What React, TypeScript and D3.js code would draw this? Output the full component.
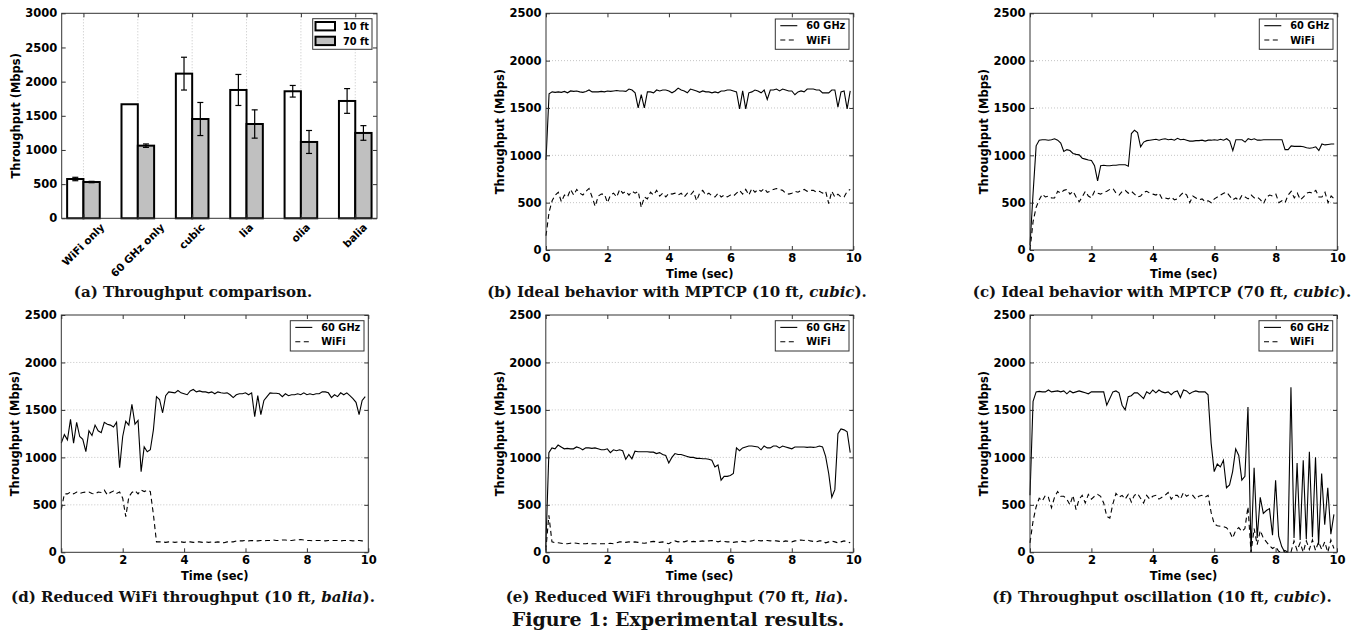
import React, { useEffect, useRef } from "react";
import * as d3 from "d3";

const W = 1357;
const H = 632;
const SANS = "'DejaVu Sans', Verdana, sans-serif";
const SERIF = "'DejaVu Serif', serif";

// ---------- Panel (a): bar chart ----------
const barCategories = ["WiFi only", "60 GHz only", "cubic", "lia", "olia", "balia"];
const tput10ft = [575, 1669, 2117, 1878, 1859, 1717];
const err10ft = [25, 0, 240, 227, 85, 181];
const tput70ft = [531, 1063, 1453, 1380, 1117, 1249];
const err70ft = [10, 25, 242, 207, 168, 107];
const barYTicks = [0, 500, 1000, 1500, 2000, 2500, 3000];
const barLegend = ["10 ft", "70 ft"];

// ---------- Time-series panels ----------
const timeTicks = [0, 2, 4, 6, 8, 10];
const lineYTicks = [0, 500, 1000, 1500, 2000, 2500];
const lineLegend = ["60 GHz", "WiFi"];

const times = [
  0, 0.1, 0.2, 0.3, 0.4, 0.5, 0.6, 0.7, 0.8, 0.9,
  1, 1.1, 1.2, 1.3, 1.4, 1.5, 1.6, 1.7, 1.8, 1.9,
  2, 2.1, 2.2, 2.3, 2.4, 2.5, 2.6, 2.7, 2.8, 2.9,
  3, 3.1, 3.2, 3.3, 3.4, 3.5, 3.6, 3.7, 3.8, 3.9,
  4, 4.1, 4.2, 4.3, 4.4, 4.5, 4.6, 4.7, 4.8, 4.9,
  5, 5.1, 5.2, 5.3, 5.4, 5.5, 5.6, 5.7, 5.8, 5.9,
  6, 6.1, 6.2, 6.3, 6.4, 6.5, 6.6, 6.7, 6.8, 6.9,
  7, 7.1, 7.2, 7.3, 7.4, 7.5, 7.6, 7.7, 7.8, 7.9,
  8, 8.1, 8.2, 8.3, 8.4, 8.5, 8.6, 8.7, 8.8, 8.9,
  9, 9.1, 9.2, 9.3, 9.4, 9.5, 9.6, 9.7, 9.8, 9.9,
];

// (b) Ideal behavior, 10 ft, cubic
const b60GHz = [
  950, 1650, 1670, 1665, 1670, 1665, 1675, 1660, 1680, 1675,
  1680, 1670, 1665, 1675, 1690, 1670, 1670, 1670, 1675, 1670,
  1680, 1675, 1680, 1685, 1680, 1680, 1675, 1700, 1690, 1660,
  1500, 1640, 1500, 1670, 1670, 1660, 1690, 1680, 1690, 1690,
  1680, 1660, 1680, 1710, 1690, 1680, 1660, 1700, 1690, 1680,
  1665, 1680, 1670, 1670, 1660, 1670, 1660, 1680, 1680, 1690,
  1690, 1680, 1670, 1490, 1680, 1490, 1660, 1670, 1690, 1680,
  1660, 1690, 1590, 1690, 1690, 1700, 1680, 1700, 1690, 1680,
  1680, 1640, 1670, 1680, 1670, 1700, 1700, 1700, 1690, 1690,
  1660, 1660, 1660, 1690, 1690, 1510, 1670, 1680, 1490, 1680,
];
const bWiFi = [
  150, 400, 520, 580, 610, 510, 580, 560, 640, 580,
  640, 600, 580, 620, 650, 560, 460, 570, 590, 590,
  500, 580, 600, 560, 640, 600, 620, 580, 620, 600,
  620, 450, 560, 540, 610, 580, 630, 570, 600, 560,
  600, 590, 600, 580, 600, 560, 600, 580, 620, 520,
  600, 630, 580, 600, 570, 560, 600, 560, 580, 560,
  580, 570, 600, 630, 590, 640, 580, 650, 610, 640,
  620, 650, 610, 620, 640, 650, 640, 630, 600, 590,
  600, 620, 610, 630, 640, 620, 630, 630, 610, 620,
  600, 620, 490, 620, 560, 590, 560, 560, 620, 640,
];

// (c) Ideal behavior, 70 ft, cubic
const c60GHz = [
  50, 600, 1100, 1160, 1165, 1165, 1160, 1165, 1175, 1160,
  1130, 1040, 1060, 1050, 1020, 1010, 1005, 970, 960, 950,
  945, 890, 730, 890, 895, 890, 890, 895, 895, 900,
  900, 900, 885, 1230, 1265, 1240, 1090, 1140, 1155, 1160,
  1165, 1170, 1160, 1170, 1175, 1165, 1170, 1160, 1180, 1165,
  1170, 1160, 1150, 1150, 1155, 1155, 1160, 1150, 1160, 1160,
  1165, 1160, 1170, 1160, 1175, 1150, 1050, 1165, 1165, 1165,
  1140, 1175, 1165, 1175, 1160, 1160, 1165, 1165, 1165, 1165,
  1165, 1165, 1165, 1060, 1060, 1100, 1095, 1095, 1095, 1090,
  1080, 1075, 1080, 1090, 1050, 1120, 1110, 1115, 1120, 1120,
];
const cWiFi = [
  0, 300, 450, 530, 590, 560, 570, 550, 550, 620,
  600, 630, 640, 590, 620, 560, 510, 560, 620, 570,
  550, 620, 600, 590, 610, 620, 640, 650, 600, 580,
  620, 630, 600, 620, 590, 560, 570, 610, 620, 600,
  590, 580, 600, 540, 550, 540, 560, 530, 540, 580,
  610, 580, 500, 570, 550, 530, 540, 510, 520, 500,
  540, 560, 580, 600, 610, 570, 530, 550, 520, 580,
  560, 540, 580, 550, 560, 530, 490, 560, 580, 570,
  590, 500, 520, 500, 580, 620, 550, 600, 530, 560,
  600, 610, 600, 630, 560, 560, 610, 500, 570, 540,
];

// (d) Reduced WiFi throughput, 10 ft, balia
const d60GHz = [
  1150, 1240, 1185, 1400, 1150, 1370, 1220, 1190, 1060, 1280,
  1230, 1340, 1280, 1260, 1370, 1350, 1340, 1320, 1370, 890,
  1220, 1380, 1340, 1560, 1350, 1390, 850, 1110, 1060, 1080,
  1290, 1640, 1610, 1470, 1650, 1690, 1685, 1680, 1705, 1680,
  1670, 1660, 1700, 1715, 1690, 1700, 1690, 1690, 1680, 1690,
  1670, 1690, 1680, 1675, 1680, 1660, 1630, 1660, 1670, 1670,
  1680, 1660, 1680, 1430, 1650, 1450, 1600, 1640, 1680, 1675,
  1675, 1670, 1640, 1670, 1650, 1660, 1660, 1670, 1660, 1680,
  1660, 1670, 1660, 1670, 1670, 1690, 1690, 1680, 1630, 1660,
  1640, 1680, 1660, 1680, 1650, 1620, 1580, 1450, 1600, 1640,
];
const dWiFi = [
  450, 615, 615, 635, 615, 635, 620, 630, 635, 635,
  620, 615, 635, 630, 655, 605, 630, 645, 620, 635,
  570, 375, 585, 630, 650, 615, 655, 640, 655, 640,
  400, 110, 110, 110, 105, 110, 110, 105, 110, 110,
  105, 110, 110, 105, 110, 110, 105, 110, 105, 110,
  105, 110, 105, 100, 110, 110, 110, 120, 120, 120,
  125, 120, 125, 120, 120, 125, 120, 125, 125, 130,
  125, 125, 130, 130, 125, 125, 130, 130, 135, 130,
  125, 125, 120, 125, 125, 125, 120, 125, 125, 125,
  125, 120, 125, 125, 125, 120, 125, 125, 120, 115,
];

// (e) Reduced WiFi throughput, 70 ft, lia
const e60GHz = [
  50, 1050, 1100, 1090, 1130, 1110, 1090, 1095, 1090, 1090,
  1110, 1100, 1080, 1100, 1100, 1095, 1100, 1090, 1080, 1080,
  1090, 1050, 1080, 1070, 1080, 1070, 980, 1030, 985, 1065,
  1060, 1060, 1060, 1060, 1055, 1055, 1040, 1050, 1030, 1020,
  940, 1000, 1040, 1030, 1030, 1020, 1010, 1000, 1000, 990,
  990, 985, 985, 980, 970, 900, 920, 760, 800, 800,
  810, 830, 1100, 1070, 1100, 1110, 1120, 1120, 1115, 1110,
  1080, 1120, 1100, 1100, 1120, 1120, 1100, 1120, 1110, 1100,
  1090, 1110, 1110, 1110, 1110, 1105, 1110, 1105, 1110, 1120,
  1110, 1010, 830, 580, 660, 1250, 1300, 1290, 1270, 1050,
];
const eWiFi = [
  20, 390, 110, 100, 100, 95, 90, 90, 95, 100,
  95, 90, 90, 90, 95, 90, 90, 90, 90, 90,
  90, 95, 90, 100, 110, 110, 105, 110, 105, 110,
  105, 100, 95, 100, 110, 115, 110, 105, 110, 100,
  90, 110, 120, 110, 115, 110, 120, 110, 115, 110,
  115, 120, 115, 120, 125, 120, 110, 120, 115, 110,
  110, 105, 110, 110, 115, 110, 115, 120, 130, 125,
  120, 125, 125, 120, 125, 120, 115, 110, 120, 115,
  110, 120, 125, 130, 125, 130, 120, 115, 110, 120,
  120, 100, 110, 120, 110, 100, 110, 120, 110, 100,
];

// (f) Throughput oscillation, 10 ft, cubic
const f60GHz = [
  600, 1590, 1690, 1695, 1690, 1690, 1710, 1690, 1695, 1700,
  1690, 1700, 1670, 1700, 1680, 1690, 1700, 1690, 1680, 1670,
  1690, 1690, 1690, 1690, 1690, 1550, 1620, 1690, 1700, 1680,
  1550, 1500, 1640, 1650, 1680, 1680, 1650, 1620, 1690, 1670,
  1710, 1680, 1710, 1690, 1680, 1690, 1660, 1690, 1700, 1630,
  1710, 1700, 1670, 1690, 1700, 1690, 1690, 1690, 1660, 1150,
  850, 930, 900, 970, 680, 710, 850, 1090, 1020, 760,
  800, 1530, 0, 890, 150, 580, 410, 440, 460, 180,
  760, 170, 60, 0, 0, 1740, 150, 940, 130, 970,
  140, 1060, 160, 1000, 80, 830, 290, 680, 190, 400,
];
const fWiFi = [
  100, 330, 480, 570, 540, 600, 580, 470, 580, 640,
  590, 590, 560, 500, 600, 450, 560, 600, 520, 610,
  560, 590, 610, 590, 520, 380, 360, 510, 620, 580,
  600, 560, 610, 530, 600, 620, 570, 520, 600, 560,
  590, 600, 560, 580, 600, 630, 560, 600, 600, 560,
  630, 590, 610, 600, 560, 590, 600, 580, 600, 420,
  300, 280, 275, 270, 260, 220, 150, 230, 260, 220,
  250, 480, 0, 250, 80, 230, 150, 110, 70, 40,
  60, 10, 0, 20, 0, 0, 120, 20, 100, 0,
  120, 30, 130, 20, 110, 30, 110, 0, 130, 40,
];

type Box = { left: number; right: number; top: number; bottom: number };
type Part = { t: string; i?: boolean };

const captions: Part[][] = [
  [{ t: "(a) Throughput comparison." }],
  [{ t: "(b) Ideal behavior with MPTCP (10 ft, " }, { t: "cubic", i: true }, { t: ")." }],
  [{ t: "(c) Ideal behavior with MPTCP (70 ft, " }, { t: "cubic", i: true }, { t: ")." }],
  [{ t: "(d) Reduced WiFi throughput (10 ft, " }, { t: "balia", i: true }, { t: ")." }],
  [{ t: "(e) Reduced WiFi throughput (70 ft, " }, { t: "lia", i: true }, { t: ")." }],
  [{ t: "(f) Throughput oscillation (10 ft, " }, { t: "cubic", i: true }, { t: ")." }],
];
const figureTitle = "Figure 1: Experimental results.";

const TICK_FS = 11.5;
const LEG_FS = 9.8;
const SPINE = "#333";
const GRID = "#b5b5b5";
const DASH = "5,3.5";

function styleAxis(g: any) {
  g.select(".domain").remove();
  g.selectAll("line").attr("stroke", SPINE);
  g.selectAll("text")
    .attr("fill", "#000")
    .attr("font-family", SANS)
    .attr("font-size", TICK_FS)
    .attr("font-weight", "bold");
}

function drawYAxes(svg: any, box: Box, y: any, ticks: number[]) {
  const left = svg
    .append("g")
    .attr("transform", `translate(${box.left},0)`)
    .call(d3.axisLeft(y).tickValues(ticks).tickSizeInner(-4).tickSizeOuter(0).tickPadding(4.5).tickFormat(d3.format("d")));
  styleAxis(left);
  const right = svg
    .append("g")
    .attr("transform", `translate(${box.right},0)`)
    .call(d3.axisRight(y).tickValues(ticks).tickSizeInner(-4).tickSizeOuter(0).tickFormat(() => ""));
  styleAxis(right);
}

function drawYLabel(svg: any, box: Box) {
  svg
    .append("text")
    .attr("transform", `translate(${box.left - 46},${(box.top + box.bottom) / 2}) rotate(-90)`)
    .attr("text-anchor", "middle")
    .attr("dominant-baseline", "central")
    .attr("font-family", SANS)
    .attr("font-size", TICK_FS)
    .attr("font-weight", "bold")
    .text("Throughput (Mbps)");
}

function drawFrame(svg: any, box: Box) {
  svg
    .append("rect")
    .attr("x", box.left)
    .attr("y", box.top)
    .attr("width", box.right - box.left)
    .attr("height", box.bottom - box.top)
    .attr("fill", "none")
    .attr("stroke", SPINE)
    .attr("stroke-width", 1);
}

function drawCaption(svg: any, parts: Part[], cx: number, baseline: number, size: number) {
  const t = svg
    .append("text")
    .attr("x", cx)
    .attr("y", baseline)
    .attr("text-anchor", "middle")
    .attr("font-family", SERIF)
    .attr("font-size", size)
    .attr("font-weight", "bold")
    .attr("fill", "#111");
  parts.forEach((p) => {
    t.append("tspan").attr("font-style", p.i ? "italic" : "normal").text(p.t);
  });
}

function drawBarPanel(svg: any, box: Box) {
  const x = d3.scaleLinear().domain([-0.4, barCategories.length - 0.6]).range([box.left, box.right]);
  const y = d3.scaleLinear().domain([0, 3000]).range([box.bottom, box.top]);
  const bw = 0.3;

  svg
    .append("g")
    .selectAll("line")
    .data(barCategories)
    .join("line")
    .attr("x1", (_: string, i: number) => x(i))
    .attr("x2", (_: string, i: number) => x(i))
    .attr("y1", box.top)
    .attr("y2", box.bottom)
    .attr("stroke", GRID)
    .attr("stroke-width", 0.8)
    .attr("stroke-dasharray", "1,2");

  const series = [
    { vals: tput10ft, errs: err10ft, fill: "#ffffff", off: -bw },
    { vals: tput70ft, errs: err70ft, fill: "#c0c0c0", off: 0 },
  ];
  series.forEach((s) => {
    const g = svg.append("g");
    g.selectAll("rect")
      .data(s.vals)
      .join("rect")
      .attr("x", (_: number, i: number) => x(i + s.off))
      .attr("width", x(bw) - x(0))
      .attr("y", (d: number) => y(d))
      .attr("height", (d: number) => y(0) - y(d))
      .attr("fill", s.fill)
      .attr("stroke", "#000")
      .attr("stroke-width", 2);
    const eg = svg.append("g").attr("stroke", "#000").attr("stroke-width", 1.2);
    s.vals.forEach((v, i) => {
      const e = s.errs[i];
      if (!e) return;
      const cx = x(i + s.off + bw / 2);
      eg.append("line").attr("x1", cx).attr("x2", cx).attr("y1", y(v - e)).attr("y2", y(v + e));
      eg.append("line").attr("x1", cx - 3).attr("x2", cx + 3).attr("y1", y(v - e)).attr("y2", y(v - e));
      eg.append("line").attr("x1", cx - 3).attr("x2", cx + 3).attr("y1", y(v + e)).attr("y2", y(v + e));
    });
  });

  drawFrame(svg, box);
  drawYAxes(svg, box, y, barYTicks);

  const idx = barCategories.map((_, i) => i);
  const xb = svg
    .append("g")
    .attr("transform", `translate(0,${box.bottom})`)
    .call(d3.axisBottom(x).tickValues(idx).tickSizeInner(-4).tickSizeOuter(0).tickFormat((i: any) => barCategories[i]));
  styleAxis(xb);
  const fs = 10.5;
  xb.selectAll("text").each(function (this: SVGTextElement) {
    const el = d3.select(this).attr("font-size", fs);
    const L = this.getComputedTextLength();
    el.attr("text-anchor", "end")
      .attr("y", null)
      .attr("dy", null)
      .attr("transform", `translate(${0.354 * L + 0.175 * fs},${4 + 0.53 * fs}) rotate(-45)`);
  });
  const xt = svg
    .append("g")
    .attr("transform", `translate(0,${box.top})`)
    .call(d3.axisTop(x).tickValues(idx).tickSizeInner(-4).tickSizeOuter(0).tickFormat(() => ""));
  styleAxis(xt);

  drawYLabel(svg, box);

  const lx = box.right - 64.3;
  const ly = box.top + 5.4;
  const lg = svg.append("g");
  lg.append("rect").attr("x", lx).attr("y", ly).attr("width", 59.3).attr("height", 30.6).attr("fill", "#fff").attr("stroke", SPINE).attr("stroke-width", 1);
  barLegend.forEach((name, i) => {
    const ry = ly + 3.3 + i * 14.7;
    lg.append("rect").attr("x", lx + 2.8).attr("y", ry).attr("width", 19.5).attr("height", 8.4).attr("fill", series[i].fill).attr("stroke", "#000").attr("stroke-width", 2);
    lg.append("text").attr("x", lx + 30.3).attr("y", ry + 7.8).attr("font-family", SANS).attr("font-size", LEG_FS).attr("font-weight", "bold").text(name);
  });
}

function drawLinePanel(svg: any, box: Box, s60: number[], sWiFi: number[]) {
  const x = d3.scaleLinear().domain([0, 10]).range([box.left, box.right]);
  const y = d3.scaleLinear().domain([0, 2500]).range([box.bottom, box.top]);

  svg
    .append("g")
    .selectAll("line")
    .data(lineYTicks.slice(1, -1))
    .join("line")
    .attr("x1", box.left)
    .attr("x2", box.right)
    .attr("y1", (d: number) => y(d))
    .attr("y2", (d: number) => y(d))
    .attr("stroke", GRID)
    .attr("stroke-width", 0.8)
    .attr("stroke-dasharray", "1,2");

  const line = d3
    .line<number>()
    .x((_, i) => x(times[i]))
    .y((d) => y(d));

  svg.append("path").attr("d", line(sWiFi)).attr("fill", "none").attr("stroke", "#000").attr("stroke-width", 1.1).attr("stroke-dasharray", DASH);
  svg.append("path").attr("d", line(s60)).attr("fill", "none").attr("stroke", "#000").attr("stroke-width", 1.1);

  drawFrame(svg, box);
  drawYAxes(svg, box, y, lineYTicks);
  const xb = svg
    .append("g")
    .attr("transform", `translate(0,${box.bottom})`)
    .call(d3.axisBottom(x).tickValues(timeTicks).tickSizeInner(-4).tickSizeOuter(0).tickPadding(4));
  styleAxis(xb);
  const xt = svg
    .append("g")
    .attr("transform", `translate(0,${box.top})`)
    .call(d3.axisTop(x).tickValues(timeTicks).tickSizeInner(-4).tickSizeOuter(0).tickFormat(() => ""));
  styleAxis(xt);

  drawYLabel(svg, box);
  svg
    .append("text")
    .attr("x", (box.left + box.right) / 2)
    .attr("y", box.bottom + 28)
    .attr("text-anchor", "middle")
    .attr("font-family", SANS)
    .attr("font-size", TICK_FS)
    .attr("font-weight", "bold")
    .text("Time (sec)");

  const lx = box.right - 78;
  const ly = box.top + 5.7;
  const lg = svg.append("g");
  lg.append("rect").attr("x", lx).attr("y", ly).attr("width", 73.7).attr("height", 30.3).attr("fill", "#fff").attr("stroke", SPINE).attr("stroke-width", 1);
  lineLegend.forEach((name, i) => {
    const ry = ly + 6.7 + i * 14.3;
    lg.append("line").attr("x1", lx + 5).attr("x2", lx + 22).attr("y1", ry).attr("y2", ry).attr("stroke", "#000").attr("stroke-width", 1.1).attr("stroke-dasharray", i === 1 ? DASH : null);
    lg.append("text").attr("x", lx + 31).attr("y", ry + 3.6).attr("font-family", SANS).attr("font-size", LEG_FS).attr("font-weight", "bold").text(name);
  });
}

export default function App() {
  const ref = useRef<SVGSVGElement>(null);
  useEffect(() => {
    const svg = d3.select(ref.current as SVGSVGElement);
    svg.selectAll("*").remove();
    svg.append("rect").attr("width", W).attr("height", H).attr("fill", "#fff");

    drawBarPanel(svg, { left: 61.7, right: 377, top: 13.3, bottom: 218.3 });
    drawLinePanel(svg, { left: 546, right: 853.3, top: 13.3, bottom: 250 }, b60GHz, bWiFi);
    drawLinePanel(svg, { left: 1030, right: 1337.3, top: 13.3, bottom: 250 }, c60GHz, cWiFi);
    drawLinePanel(svg, { left: 61.3, right: 368.3, top: 315, bottom: 552.3 }, d60GHz, dWiFi);
    drawLinePanel(svg, { left: 545.8, right: 853.3, top: 315, bottom: 552.3 }, e60GHz, eWiFi);
    drawLinePanel(svg, { left: 1030, right: 1337, top: 315, bottom: 552.3 }, f60GHz, fWiFi);

    const colX = [193, 677, 1162];
    captions.forEach((c, i) => {
      drawCaption(svg, c, colX[i % 3], i < 3 ? 296.5 : 601.5, 15);
    });
    drawCaption(svg, [{ t: figureTitle }], 678, 625.5, 19);
  }, []);
  return (
    <svg
      ref={ref}
      width={W}
      height={H}
      style={{ position: "absolute", left: 0, top: 0, display: "block" }}
    />
  );
}
